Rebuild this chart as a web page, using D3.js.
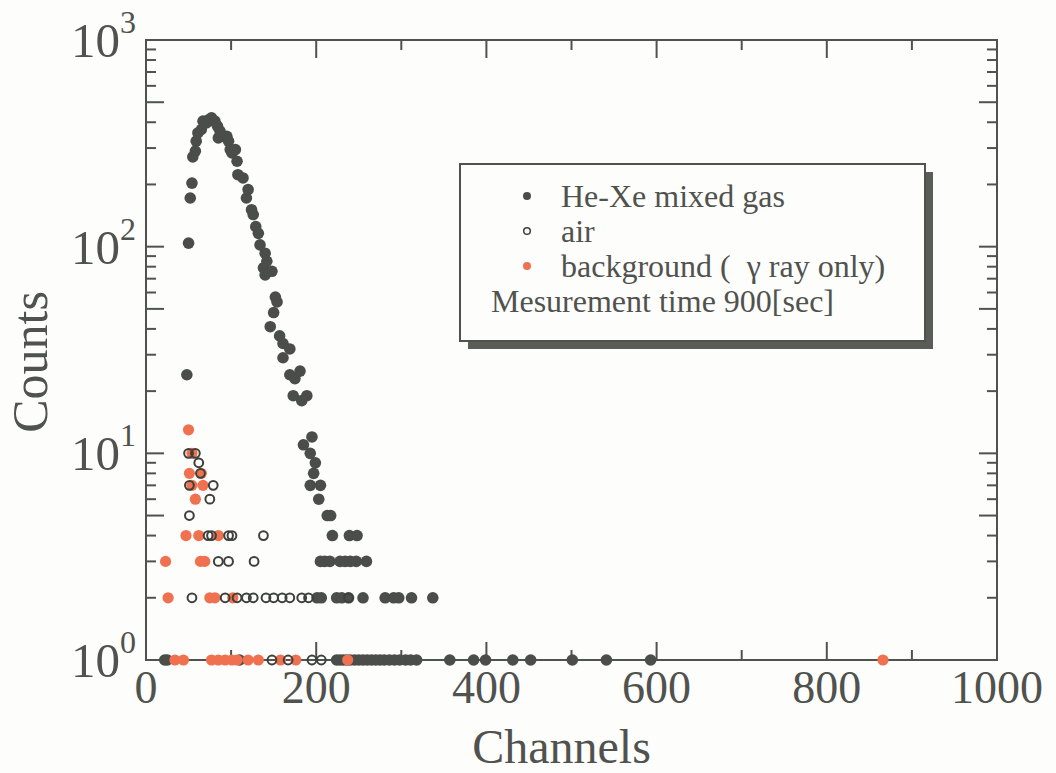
<!DOCTYPE html>
<html>
<head>
<meta charset="utf-8">
<script src="https://cdn.jsdelivr.net/npm/d3@7"></script>
<style>
  html, body { margin: 0; padding: 0; background: #fdfdfb; }
  svg { display: block; }
  text { font-family: "Liberation Serif", "Times New Roman", serif; fill: #50524e; }
</style>
</head>
<body>
<svg id="chart" width="1056" height="773"></svg>
<script>
// Pulse-height spectra, 900 s acquisition: [channel, counts]
const heXe = [
  [22,1],[25,1],[48,24],[50,104],[52,172],[54,203],[55,272],[58,290],[59,324],[61,355],
  [65,369],[67,405],[71,397],[74,412],[77,420],[81,405],[84,383],[85,336],[87,362],[89,342],
  [95,342],[97,324],[99,295],[101,284],[105,295],[107,259],[108,223],[114,215],[118,172],[120,189],
  [124,151],[126,143],[129,125],[132,116],[134,102],[138,79],[140,93],[140,73],[142,85],[148,76],
  [146,41],[150,48],[152,57],[154,54],[157,37],[161,34],[161,29],[169,32],[169,24],[173,19],
  [175,23],[181,25],[183,18],[185,11],[189,19],[193,10],[193,7],[195,12],[197,8],[199,9],
  [205,7],[203,6],[213,5],[217,5],[219,4],[239,4],[248,4],
  [205,3],[210,3],[216,3],[228,3],[234,3],[240,3],[247,3],[259,3],
  [201,2],[206,2],[224,2],[230,2],[238,2],[255,2],[281,2],[291,2],[297,2],[312,2],[337,2],
  [110,1],[224,1],[228,1],[232,1],[236,1],[240,1],[245,1],[250,1],[255,1],[260,1],[265,1],
  [270,1],[275,1],[280,1],[286,1],[292,1],[298,1],[305,1],[311,1],[318,1],
  [357,1],[385,1],[399,1],[431,1],[452,1],[501,1],[541,1],[593,1]
];
const air = [
  [50,10],[58,10],[62,9],[64,8],[51,7],[79,7],[75,6],[51,5],
  [73,4],[77,4],[97,4],[101,4],[138,4],
  [85,3],[97,3],[127,3],
  [54,2],[93,2],[107,2],[118,2],[126,2],[141,2],[150,2],[160,2],[169,2],[183,2],[191,2],[238,2],
  [148,1],[167,1],[195,1],[206,1]
];
const background = [
  [50,13],[54,10],[51,8],[65,8],[54,7],[67,7],[58,6],
  [47,4],[62,4],[85,4],
  [23,3],[64,3],[69,3],
  [26,2],[75,2],[81,2],[102,2],
  [34,1],[44,1],[77,1],[85,1],[93,1],[101,1],[107,1],[120,1],[132,1],[158,1],[176,1],[237,1],[866,1]
];
const xTicks = [0, 200, 400, 600, 800, 1000];
const xMinorTicks = [100, 300, 500, 700, 900];
const yDecades = [1, 10, 100, 1000];
const yExponents = ["0", "1", "2", "3"];
const legendLabels = ["He-Xe mixed gas", "air", "background (  \u03B3 ray only)"];
const noteLabel = "Mesurement time 900[sec]";

const ink = "#50524e";
const darkFill = "#4a4d49";
const orange = "#f07150";

const svg = d3.select("#chart");
const plotL = 146, plotR = 997, plotT = 40, plotB = 660;

const x = d3.scaleLinear().domain([0, 1000]).range([plotL, plotR]);
const y = d3.scaleLog().domain([1, 1000]).range([plotB, plotT]);

// Minor log ticks: 2..9 within each decade (5 drawn long)
const yMinor = [];
[1, 10, 100].forEach(d => { for (let k = 2; k <= 9; k++) yMinor.push({ v: d * k, k }); });

const g = svg.append("g");

// Frame
g.append("rect")
  .attr("x", plotL).attr("y", plotT)
  .attr("width", plotR - plotL).attr("height", plotB - plotT)
  .attr("fill", "none").attr("stroke", ink).attr("stroke-width", 2);

// Ticks on all four sides, pointing inward
const major = 18, minor = 10;
function xTick(v, len) {
  g.append("line").attr("x1", x(v)).attr("x2", x(v)).attr("y1", plotB).attr("y2", plotB - len)
    .attr("stroke", ink).attr("stroke-width", 2);
  g.append("line").attr("x1", x(v)).attr("x2", x(v)).attr("y1", plotT).attr("y2", plotT + len)
    .attr("stroke", ink).attr("stroke-width", 2);
}
xTicks.forEach(v => xTick(v, major));
xMinorTicks.forEach(v => xTick(v, minor));
function yTick(v, len) {
  g.append("line").attr("y1", y(v)).attr("y2", y(v)).attr("x1", plotL).attr("x2", plotL + len)
    .attr("stroke", ink).attr("stroke-width", 2);
  g.append("line").attr("y1", y(v)).attr("y2", y(v)).attr("x1", plotR).attr("x2", plotR - len)
    .attr("stroke", ink).attr("stroke-width", 2);
}
yDecades.forEach(v => yTick(v, major));
yMinor.forEach(m => yTick(m.v, m.k === 5 ? major : minor));

// X tick labels
g.selectAll(".xl").data(xTicks).enter().append("text")
  .attr("x", d => x(d)).attr("y", plotB + 43)
  .attr("text-anchor", "middle").attr("font-size", 46)
  .text(d => d);

// Y tick labels: 10 with superscript exponent
yDecades.forEach((d, i) => {
  const t = g.append("text")
    .attr("x", 136).attr("y", y(d) + 17)
    .attr("text-anchor", "end").attr("font-size", 49);
  t.append("tspan").text("10");
  t.append("tspan").attr("font-size", 32).attr("dy", -24).text(yExponents[i]);
});

// Axis titles
g.append("text").attr("x", (plotL + plotR) / 2 - 10).attr("y", 763)
  .attr("text-anchor", "middle").attr("font-size", 48).text("Channels");
g.append("text").attr("transform", `translate(47,362) rotate(-90)`)
  .attr("text-anchor", "middle").attr("font-size", 50).text("Counts");

// Data points
g.append("g").selectAll("circle").data(heXe).enter().append("circle")
  .attr("cx", d => x(d[0])).attr("cy", d => y(d[1])).attr("r", 5.8)
  .attr("fill", darkFill);
g.append("g").selectAll("circle").data(background).enter().append("circle")
  .attr("cx", d => x(d[0])).attr("cy", d => y(d[1])).attr("r", 5.6)
  .attr("fill", orange);
g.append("g").selectAll("circle").data(air).enter().append("circle")
  .attr("cx", d => x(d[0])).attr("cy", d => y(d[1])).attr("r", 4.4)
  .attr("fill", "none").attr("stroke", "#3e403c").attr("stroke-width", 2);

// Legend box with drop shadow
const lg = svg.append("g");
lg.append("rect").attr("x", 468).attr("y", 172).attr("width", 465).attr("height", 177)
  .attr("fill", "#5a5c58");
lg.append("rect").attr("x", 460).attr("y", 164).attr("width", 465).attr("height", 177)
  .attr("fill", "#fdfdfb").attr("stroke", ink).attr("stroke-width", 2);

const rows = [207, 242, 277];
lg.append("circle").attr("cx", 527).attr("cy", rows[0] - 11).attr("r", 4).attr("fill", darkFill);
lg.append("circle").attr("cx", 527).attr("cy", rows[1] - 11).attr("r", 3.3)
  .attr("fill", "none").attr("stroke", "#3e403c").attr("stroke-width", 1.5);
lg.append("circle").attr("cx", 527).attr("cy", rows[2] - 11).attr("r", 4).attr("fill", orange);
legendLabels.forEach((s, i) => {
  lg.append("text").attr("x", 561).attr("y", rows[i]).attr("font-size", 32)
    .style("white-space", "pre").text(s);
});
lg.append("text").attr("x", 491).attr("y", 312).attr("font-size", 32).text(noteLabel);
</script>
</body>
</html>
